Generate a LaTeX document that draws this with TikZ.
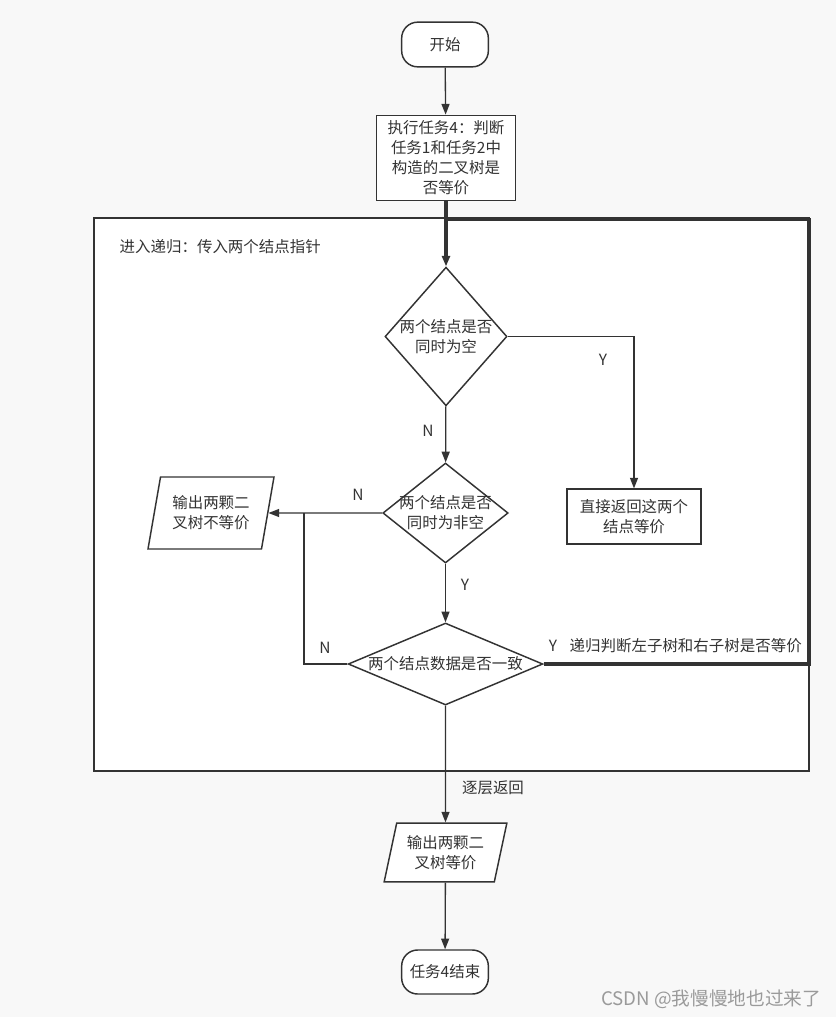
\documentclass[tikz,border=0pt]{standalone}
\usepackage{fontspec}
\setmainfont{Noto Sans CJK SC}
\usetikzlibrary{shapes.geometric,arrows.meta}
\definecolor{ln}{HTML}{333333}
\definecolor{bg}{HTML}{F8F8F8}
\definecolor{wm}{HTML}{9A9A9A}

\tikzset{
  every node/.style={font=\fontsize{11.6pt}{15pt}\selectfont, text=ln, align=center},
  term/.style={draw=ln, line width=1.1pt, fill=white, rounded corners=12pt, minimum width=65pt, minimum height=33.5pt},
  proc/.style={draw=ln, line width=1.1pt, fill=white, inner sep=0pt},
  cond/.style={draw=ln, line width=1.1pt, fill=white, diamond, inner sep=-3pt},
  io/.style={draw=ln, line width=1.1pt, fill=white, trapezium, trapezium left angle=70, trapezium right angle=110, trapezium stretches body, inner sep=0pt},
  flow/.style={draw=ln, line width=1pt, -{Triangle[length=8pt,width=6pt]}},
  loopline/.style={draw=ln, line width=2.6pt},
}

\begin{document}
\begin{tikzpicture}[x=0.75pt,y=-0.75pt]
    \fill[bg] (0,0) rectangle (836,1017);
    \useasboundingbox (0,0) rectangle (836,1017);
    % recursion frame
    \node[draw=ln, line width=1pt, fill=white, inner sep=0pt, minimum width=536.25pt, minimum height=414.75pt] (frame) at (451.5,494.5) {};
    \node[anchor=west] (framelbl) at (115,247) {进入递归：传入两个结点指针};
    % nodes
    \node[term] (start) at (445,44.5) {开始};
    \node[proc, minimum width=104pt, minimum height=64pt] (task) at (446,158) {执行任务4：判断\\任务1和任务2中\\构造的二叉树是\\否等价};
    \node[cond, aspect=0.88, minimum width=91.5pt, minimum height=104pt] (bothnull) at (446,336.5) {两个结点是否\\同时为空};
    \node[proc, minimum width=100.5pt, minimum height=41pt] (equal) at (634,516.5) {直接返回这两个\\结点等价};
    \node[cond, aspect=1.25, minimum width=94pt, minimum height=75pt] (bothset) at (445.5,513) {两个结点是否\\同时为非空};
    \node[io, minimum width=94.5pt, minimum height=54pt] (noteq) at (211,513) {输出两颗二\\叉树不等价};
    \node[cond, aspect=2.4, minimum width=146pt, minimum height=61.5pt] (samedata) at (445.5,664) {两个结点数据是否一致};
    \node[io, minimum width=92pt, minimum height=44pt] (treeeq) at (445.5,852.5) {输出两颗二\\叉树等价};
    \node[term, minimum height=33pt] (stop) at (445,972) {任务4结束};
    \coordinate (loop) at (809,219.5);
    \coordinate (jn) at (304,513);
    % labels
    \node (yA) at (603,360) {Y};
    \node (nA) at (428,431) {N};
    \node (nB) at (358,495) {N};
    \node (yB) at (465,585) {Y};
    \node (nC) at (325,648) {N};
    \node (yC) at (553,646) {Y};
    \node[anchor=west] (recur) at (565,646) {递归判断左子树和右子树是否等价};
    \node (back) at (493,788) {逐层返回};
    % connectors
    \draw[flow] (start) -- (task);
    \draw[loopline] (samedata.east) -| (loop) -- (task.south |- loop);
    \draw[flow, loopline] (task) -- (bothnull);
    \draw[flow] (bothnull.east) -| (equal.north);
    \draw[flow] (bothnull) -- (bothset);
    \draw[flow] (bothset.west) -- (noteq.east);
    \draw[flow] (bothset) -- (samedata);
    \draw[draw=ln, line width=1pt] (samedata.west) -| (jn);
    \draw[flow] (samedata) -- (treeeq);
    \draw[flow] (treeeq) -- (stop);
    % watermark
    \node[anchor=east, text=wm, font=\fontsize{14pt}{16pt}\selectfont] (mark) at (826,999) {CSDN @我慢慢地也过来了};
\end{tikzpicture}
\end{document}
